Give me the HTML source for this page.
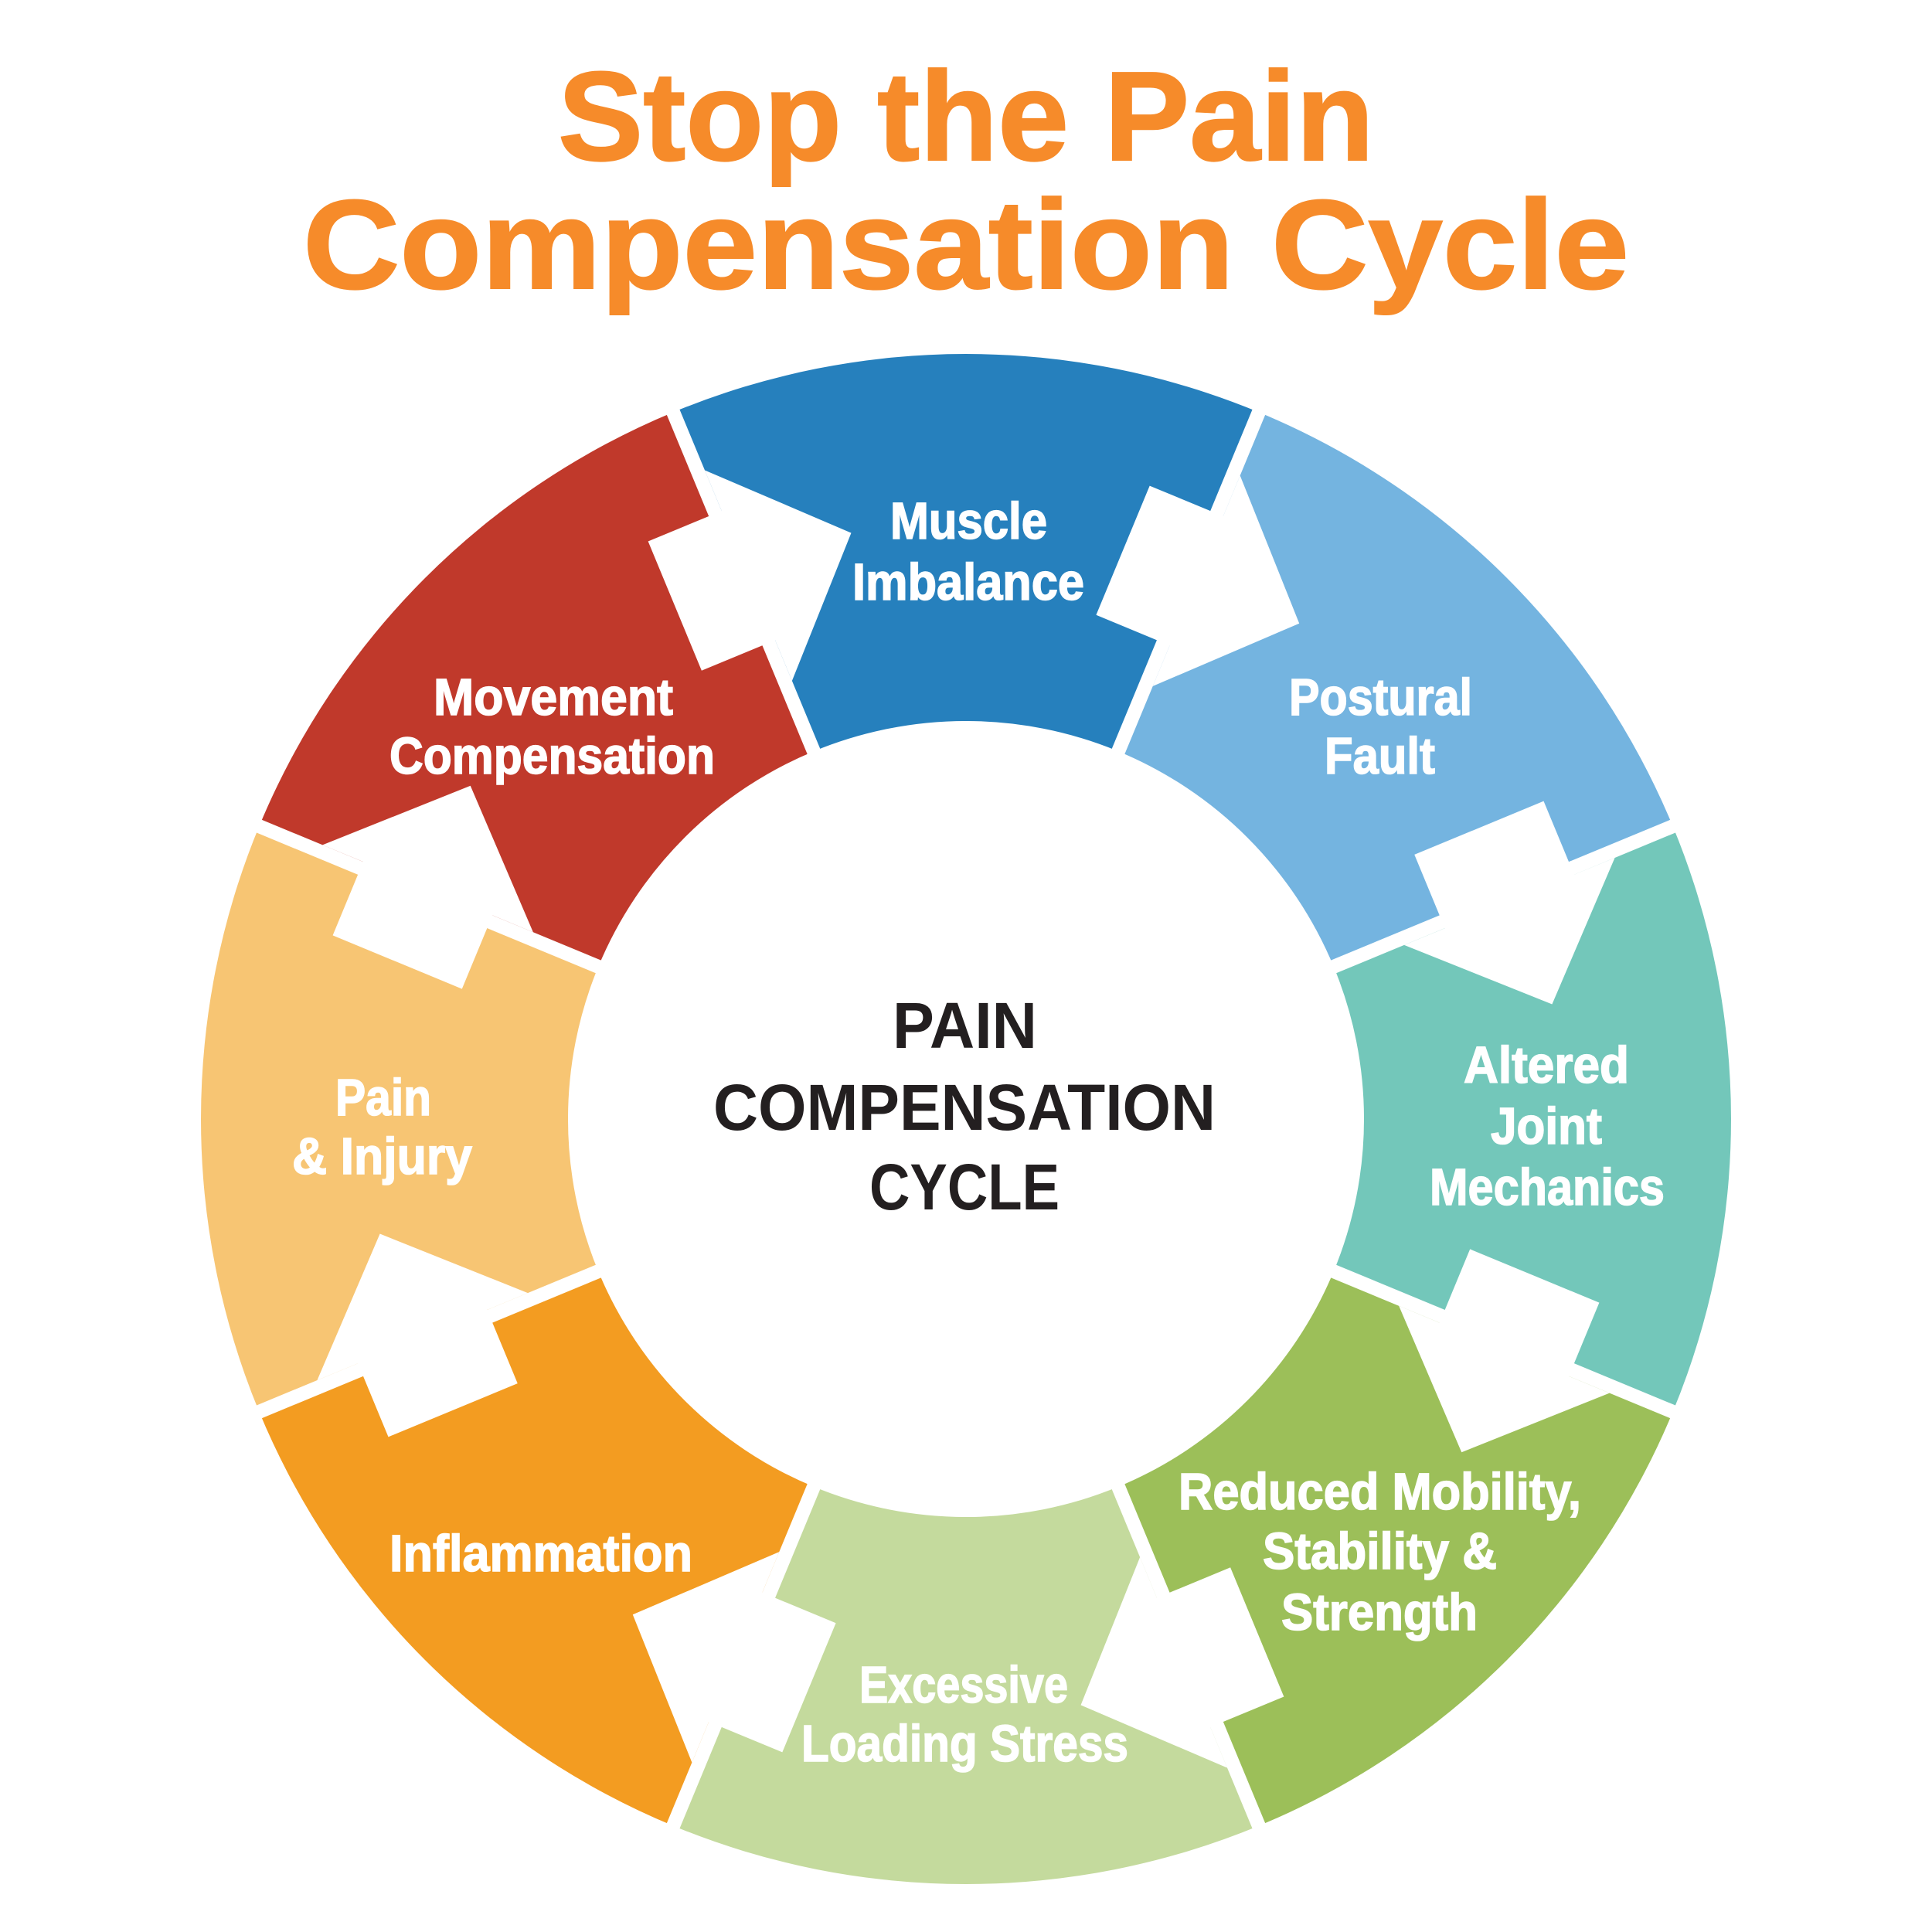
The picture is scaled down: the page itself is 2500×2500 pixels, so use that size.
<!DOCTYPE html>
<html>
<head>
<meta charset="utf-8">
<style>
  html, body { margin: 0; padding: 0; background: #ffffff; }
  svg { display: block; }
  .lbl { font-family: "Liberation Sans", Arial, sans-serif; font-weight: bold; font-size: 67px; fill: #ffffff; stroke: #ffffff; stroke-width: 1.6px; }
  .ctr { font-family: "Liberation Sans", Arial, sans-serif; font-weight: bold; font-size: 84px; fill: #231F20; }
  .ttl { font-family: "Liberation Sans", Arial, sans-serif; font-weight: bold; font-size: 164px; fill: #F68B2A; stroke: #F68B2A; stroke-width: 2px; }
</style>
</head>
<body>
<svg width="2500" height="2500" viewBox="0 0 2500 2500" xmlns="http://www.w3.org/2000/svg">
  <rect x="0" y="0" width="2500" height="2500" fill="#ffffff"/>
  <defs>
    <path id="sec" d="M -378.9 -914.6 A 990 990 0 0 1 378.9 -914.6 L 197.1 -475.8 A 515 515 0 0 0 -197.1 -475.8 Z"/>
    <g id="arr">
      <rect x="-9" y="-1010" width="18" height="505"/>
      <polygon points="-94,-848 9,-848 9,-905 153,-757.5 9,-610 9,-667 -94,-667"/>
    </g>
  </defs>
  <g transform="translate(1250,1448)">
    <use href="#sec" fill="#2680BD"/>
    <use href="#sec" transform="rotate(45)" fill="#74B4E0"/>
    <use href="#sec" transform="rotate(90)" fill="#73C7BA"/>
    <use href="#sec" transform="rotate(135)" fill="#9CBF59"/>
    <use href="#sec" transform="rotate(180)" fill="#C4DA9D"/>
    <use href="#sec" transform="rotate(225)" fill="#F39C21"/>
    <use href="#sec" transform="rotate(270)" fill="#F7C573"/>
    <use href="#sec" transform="rotate(315)" fill="#C0392B"/>
    <g fill="#ffffff">
      <use href="#arr" transform="rotate(-22.5)"/>
      <use href="#arr" transform="rotate(22.5)"/>
      <use href="#arr" transform="rotate(67.5)"/>
      <use href="#arr" transform="rotate(112.5)"/>
      <use href="#arr" transform="rotate(157.5)"/>
      <use href="#arr" transform="rotate(202.5)"/>
      <use href="#arr" transform="rotate(247.5)"/>
      <use href="#arr" transform="rotate(292.5)"/>
    </g>
  </g>

  <!-- Title -->
  <text class="ttl" x="722" y="207" textLength="1056" lengthAdjust="spacingAndGlyphs">Stop the Pain</text>
  <text class="ttl" x="392" y="373" textLength="1716" lengthAdjust="spacingAndGlyphs">Compensation Cycle</text>

  <!-- Center -->
  <text class="ctr" x="1155" y="1356" textLength="187" lengthAdjust="spacingAndGlyphs">PAIN</text>
  <text class="ctr" x="923" y="1462" textLength="650" lengthAdjust="spacingAndGlyphs">COMPENSATION</text>
  <text class="ctr" x="1125" y="1565" textLength="246" lengthAdjust="spacingAndGlyphs">CYCLE</text>

  <!-- Segment labels -->
  <text class="lbl" x="1152" y="697" textLength="203" lengthAdjust="spacingAndGlyphs">Muscle</text>
  <text class="lbl" x="1103" y="776" textLength="300" lengthAdjust="spacingAndGlyphs">Imbalance</text>

  <text class="lbl" x="1668" y="925" textLength="237" lengthAdjust="spacingAndGlyphs">Postural</text>
  <text class="lbl" x="1714" y="1001" textLength="143" lengthAdjust="spacingAndGlyphs">Fault</text>

  <text class="lbl" x="1894" y="1401" textLength="214" lengthAdjust="spacingAndGlyphs">Altered</text>
  <text class="lbl" x="1929" y="1480" textLength="144" lengthAdjust="spacingAndGlyphs">Joint</text>
  <text class="lbl" x="1850" y="1559" textLength="304" lengthAdjust="spacingAndGlyphs">Mechanics</text>

  <text class="lbl" x="1525" y="1953" textLength="521" lengthAdjust="spacingAndGlyphs">Reduced Mobility,</text>
  <text class="lbl" x="1634" y="2030" textLength="303" lengthAdjust="spacingAndGlyphs">Stability &amp;</text>
  <text class="lbl" x="1658" y="2109" textLength="254" lengthAdjust="spacingAndGlyphs">Strength</text>

  <text class="lbl" x="1112" y="2203" textLength="270" lengthAdjust="spacingAndGlyphs">Excessive</text>
  <text class="lbl" x="1037" y="2279" textLength="423" lengthAdjust="spacingAndGlyphs">Loading Stress</text>

  <text class="lbl" x="504" y="2033" textLength="392" lengthAdjust="spacingAndGlyphs">Inflammation</text>

  <text class="lbl" x="434" y="1443" textLength="124" lengthAdjust="spacingAndGlyphs">Pain</text>
  <text class="lbl" x="378" y="1519" textLength="233" lengthAdjust="spacingAndGlyphs">&amp; Injury</text>

  <text class="lbl" x="561" y="925" textLength="310" lengthAdjust="spacingAndGlyphs">Movement</text>
  <text class="lbl" x="504" y="1001" textLength="421" lengthAdjust="spacingAndGlyphs">Compensation</text>
</svg>
</body>
</html>
